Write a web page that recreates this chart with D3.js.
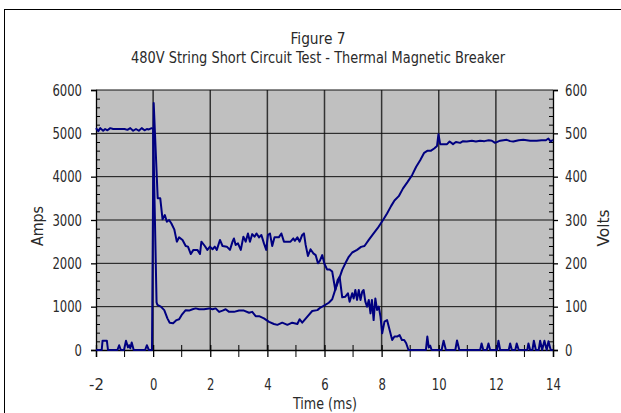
<!DOCTYPE html>
<html>
<head>
<meta charset="utf-8">
<script src="https://cdn.jsdelivr.net/npm/d3@7"></script>
<style>
  body { margin: 0; background: #fff; }
  svg text { font-family: "DejaVu Sans Condensed", "DejaVu Sans", sans-serif; fill: #2a2a2a; font-size: 16px; }
</style>
</head>
<body>
<svg id="chart" width="621" height="413"></svg>
<script>
// current trace (Amps, left axis)
const ampsTime = [-2, -1.8, -1.77, -1.62, -1.58, -1.25, -1.19, -1.13, -1.02, -0.95, -0.88, -0.84, -0.8, -0.75, -0.68,
  -0.28, -0.22, -0.15, -0.04, 0.02, 0.16, 0.25, 0.33, 0.41, 0.48, 0.56, 0.64, 0.74, 0.83, 0.91, 1.03, 1.14, 1.22, 1.32,
  1.41, 1.55, 1.64, 1.69, 1.81, 1.9, 1.99, 2.08, 2.16, 2.23, 2.34, 2.43, 2.58, 2.69, 2.78, 2.83, 2.89, 2.97, 3.07, 3.16,
  3.24, 3.32, 3.39, 3.47, 3.55, 3.62, 3.71, 3.79, 3.88, 3.96, 4.02, 4.09, 4.17, 4.25, 4.4, 4.49, 4.58, 4.81, 4.91, 4.96,
  5.05, 5.13, 5.22, 5.28, 5.34, 5.42, 5.51, 5.61, 5.69, 5.77, 5.84, 5.92, 6.0, 6.09, 6.18, 6.27, 6.33, 6.38, 6.46, 6.53,
  6.62, 6.73, 6.82, 6.88, 6.97, 7.02, 7.08, 7.14, 7.2, 7.26, 7.32, 7.37, 7.43, 7.49, 7.55, 7.61, 7.66, 7.72, 7.78, 7.84,
  7.9, 7.96, 8.02, 8.1, 8.19, 8.28, 8.37, 8.45, 8.54, 8.63, 8.71, 8.79, 8.86, 8.94, 9.55, 9.6, 9.65, 9.7, 9.75, 10.1,
  10.17, 10.25, 10.58, 10.64, 10.72, 11.45, 11.5, 11.56, 11.68, 11.74, 11.8, 12.04, 12.09, 12.15, 12.45, 12.5, 12.56,
  12.68, 12.73, 12.8, 13.1, 13.14, 13.2, 13.28, 13.33, 13.4, 13.5, 13.55, 13.62, 13.7, 13.78, 13.84, 13.92, 14]
const ampsValue = [0, 0, 215, 215, 0, 0, 110, 0, 0, 215, 60, 110, 40, 175, 0,
  0, 110, 0, 0, 5700, 3500, 3500, 3015, 3115, 2960, 3000, 2920, 2785, 2500, 2600, 2540, 2400, 2385, 2215,
  2310, 2310, 2215, 2500, 2400, 2310, 2385, 2325, 2385, 2310, 2540, 2400, 2385, 2310, 2500, 2575, 2425, 2460, 2310, 2615,
  2500, 2690, 2500, 2675, 2615, 2690, 2600, 2655, 2460, 2310, 2655, 2690, 2400, 2600, 2600, 2690, 2500, 2500, 2575, 2520,
  2600, 2500, 2655, 2690, 2425, 2170, 2325, 2230, 2190, 2000, 2060, 2190, 1985, 1860, 1860, 1810, 1575, 1385, 1615, 1690,
  1215, 1230, 1310, 1115, 1310, 1190, 1385, 1155, 1385, 1155, 1345, 1385, 1115, 1000, 1155, 845, 1155, 690, 1190, 925,
  1000, 770, 385, 655, 690, 460, 230, 310, 310, 345, 230, 230, 155, 0, 0, 310, 60, 100, 0, 0,
  215, 0, 0, 220, 0, 0, 150, 0, 0, 150, 0, 0, 215, 0, 0, 150, 0,
  0, 150, 0, 0, 150, 0, 0, 215, 0, 0, 215, 0, 215, 0, 200, 0, 0]

// voltage trace (Volts, right axis)
const voltsTime = [-2, -1.92, -1.85, -1.75, -1.68, -1.6, -1.5, -1.4, -1.2, -1.0, -0.9, -0.8, -0.7, -0.6, -0.5, -0.4,
  -0.3, -0.22, -0.15, -0.05, 0, 0.12, 0.15, 0.27, 0.39, 0.5, 0.58, 0.7, 0.82, 0.91, 1.0, 1.14, 1.26, 1.38, 1.49, 1.61,
  1.78, 1.96, 2.08, 2.19, 2.31, 2.43, 2.54, 2.66, 2.83, 3.01, 3.18, 3.36, 3.47, 3.59, 3.71, 3.88, 4.06, 4.23, 4.35, 4.52,
  4.7, 4.87, 5.05, 5.13, 5.22, 5.4, 5.57, 5.75, 5.86, 6.0, 6.15, 6.27, 6.38, 6.5, 6.62, 6.73, 6.85, 6.97, 7.14, 7.28,
  7.4, 7.55, 7.72, 7.86, 8.05, 8.19, 8.33, 8.45, 8.6, 8.75, 8.91, 9.07, 9.21, 9.35, 9.49, 9.61, 9.73, 9.84, 9.94, 9.99,
  10.05, 10.17, 10.29, 10.38, 10.5, 10.6, 10.75, 10.85, 10.98, 11.16, 11.3, 11.45, 11.6, 11.75, 11.86, 11.97, 12.15,
  12.38, 12.5, 12.61, 12.8, 12.96, 13.2, 13.43, 13.6, 13.75, 13.84, 13.92, 14]
const voltsValue = [512, 505, 512, 506, 510, 507, 512, 510, 510, 510, 508, 512, 506, 510, 506, 512,
  507, 510, 509, 512, 510, 110, 104, 100, 92, 73, 63, 62, 69, 71, 81, 92, 91, 94, 96, 94,
  94, 96, 94, 96, 88, 91, 94, 88, 88, 91, 91, 86, 88, 78, 78, 73, 65, 60, 58, 63,
  58, 63, 60, 71, 63, 77, 90, 92, 98, 103, 109, 117, 140, 162, 185, 200, 215, 225, 231, 238,
  240, 254, 269, 281, 300, 315, 332, 345, 355, 373, 388, 404, 423, 438, 455, 460, 460, 465, 471, 498,
  475, 475, 475, 481, 475, 480, 478, 482, 481, 483, 481, 483, 482, 484, 483, 478, 483,
  485, 482, 481, 484, 485, 483, 483, 484, 484, 488, 481, 485]

const timeTicks = [-2, 0, 2, 4, 6, 8, 10, 12, 14]
const ampsTicks = [0, 1000, 2000, 3000, 4000, 5000, 6000]
const voltsTicks = [0, 100, 200, 300, 400, 500, 600]

const svg = d3.select('#chart')
const plot = { left: 96, right: 553, top: 90, bottom: 350 }

const x = d3.scaleLinear().domain([-2, 14]).range([plot.left, plot.right])
const yAmps = d3.scaleLinear().domain([0, 6000]).range([plot.bottom, plot.top])
const yVolts = d3.scaleLinear().domain([0, 600]).range([plot.bottom, plot.top])

// squeeze text into the narrow look of the original
function narrow (selection, perChar) {
  selection.each(function () {
    const t = d3.select(this)
    t.attr('textLength', t.text().length * perChar).attr('lengthAdjust', 'spacingAndGlyphs')
  })
}

// outer chart frame
svg.append('rect')
  .attr('x', 4.5).attr('y', 9.5)
  .attr('width', 700).attr('height', 500)
  .attr('fill', 'none').attr('stroke', '#000').attr('stroke-width', 1)

// plot area
svg.append('rect')
  .attr('x', plot.left).attr('y', plot.top)
  .attr('width', plot.right - plot.left).attr('height', plot.bottom - plot.top)
  .attr('fill', '#c0c0c0')

// grid lines
svg.append('g')
  .selectAll('line')
  .data(timeTicks.slice(1, -1))
  .join('line')
  .attr('x1', d => x(d)).attr('x2', d => x(d))
  .attr('y1', plot.top).attr('y2', plot.bottom)
  .attr('stroke', '#333').attr('stroke-width', 1.5)
svg.append('g')
  .selectAll('line')
  .data(ampsTicks.slice(1))
  .join('line')
  .attr('x1', plot.left).attr('x2', plot.right)
  .attr('y1', d => yAmps(d)).attr('y2', d => yAmps(d))
  .attr('stroke', '#111').attr('stroke-width', 1)

// minor ticks (inside on y axes, crossing on x axis)
const minorAmps = d3.range(200, 6000, 200).filter(d => d % 1000 !== 0)
svg.append('g')
  .attr('transform', `translate(${plot.left},0)`)
  .call(d3.axisRight(yAmps).tickValues(minorAmps).tickSize(4).tickFormat(''))
  .call(g => g.select('.domain').remove())
svg.append('g')
  .attr('transform', `translate(${plot.right},0)`)
  .call(d3.axisLeft(yVolts).tickValues(minorAmps.map(d => d / 10)).tickSize(4).tickFormat(''))
  .call(g => g.select('.domain').remove())
svg.append('g')
  .selectAll('line')
  .data(d3.range(-1, 14, 2))
  .join('line')
  .attr('x1', d => x(d)).attr('x2', d => x(d))
  .attr('y1', plot.bottom - 5).attr('y2', plot.bottom + 7)
  .attr('stroke', '#000')

// major axes
const leftAxis = svg.append('g')
  .attr('transform', `translate(${plot.left},0)`)
  .call(d3.axisLeft(yAmps).tickValues(ampsTicks).tickFormat(d3.format('d')).tickSize(5).tickPadding(9))
const rightAxis = svg.append('g')
  .attr('transform', `translate(${plot.right},0)`)
  .call(d3.axisRight(yVolts).tickValues(voltsTicks).tickFormat(d3.format('d')).tickSize(5).tickPadding(7))
const bottomAxis = svg.append('g')
  .attr('transform', `translate(0,${plot.bottom})`)
  .call(d3.axisBottom(x).tickValues(timeTicks).tickFormat(d3.format('d')).tickSize(7).tickPadding(22))

for (const g of [leftAxis, rightAxis, bottomAxis]) {
  g.selectAll('.domain').attr('stroke', '#000').attr('stroke-width', 1.3)
  g.selectAll('.tick line').attr('stroke', '#000').attr('stroke-width', 1.3)
  g.selectAll('.tick text')
    .style('font-family', '"DejaVu Sans Condensed", "DejaVu Sans", sans-serif')
    .style('font-size', '16px')
    .attr('fill', '#2a2a2a')
    .text(d => String(d).replace('-', '-'))
    .call(narrow, 7.4)
}
leftAxis.selectAll('.tick line').attr('x2', -5).attr('x1', 0)
bottomAxis.selectAll('.tick line').attr('y1', -5)

// data lines
const ampsLine = d3.line()
  .x((d, i) => x(ampsTime[i]))
  .y(d => yAmps(d))
const voltsLine = d3.line()
  .x((d, i) => x(voltsTime[i]))
  .y(d => yVolts(d))

svg.append('path')
  .datum(voltsValue)
  .attr('d', voltsLine)
  .attr('fill', 'none').attr('stroke', '#000080').attr('stroke-width', 2)
  .attr('stroke-linejoin', 'round')
svg.append('path')
  .datum(ampsValue)
  .attr('d', ampsLine)
  .attr('fill', 'none').attr('stroke', '#000080').attr('stroke-width', 2)
  .attr('stroke-linejoin', 'round')

// titles
svg.append('text')
  .attr('x', 318).attr('y', 44)
  .attr('text-anchor', 'middle')
  .attr('textLength', 55).attr('lengthAdjust', 'spacingAndGlyphs')
  .text('Figure 7')
svg.append('text')
  .attr('x', 318).attr('y', 63)
  .attr('text-anchor', 'middle')
  .attr('textLength', 374).attr('lengthAdjust', 'spacingAndGlyphs')
  .text('480V String Short Circuit Test - Thermal Magnetic Breaker')
svg.append('text')
  .attr('x', 325).attr('y', 409)
  .attr('text-anchor', 'middle')
  .attr('textLength', 64).attr('lengthAdjust', 'spacingAndGlyphs')
  .text('Time (ms)')
svg.append('text')
  .attr('transform', 'translate(43,226) rotate(-90)')
  .attr('text-anchor', 'middle')
  .attr('textLength', 40).attr('lengthAdjust', 'spacingAndGlyphs')
  .text('Amps')
svg.append('text')
  .attr('transform', 'translate(609,228) rotate(-90)')
  .attr('text-anchor', 'middle')
  .attr('textLength', 37).attr('lengthAdjust', 'spacingAndGlyphs')
  .text('Volts')
</script>
</body>
</html>
